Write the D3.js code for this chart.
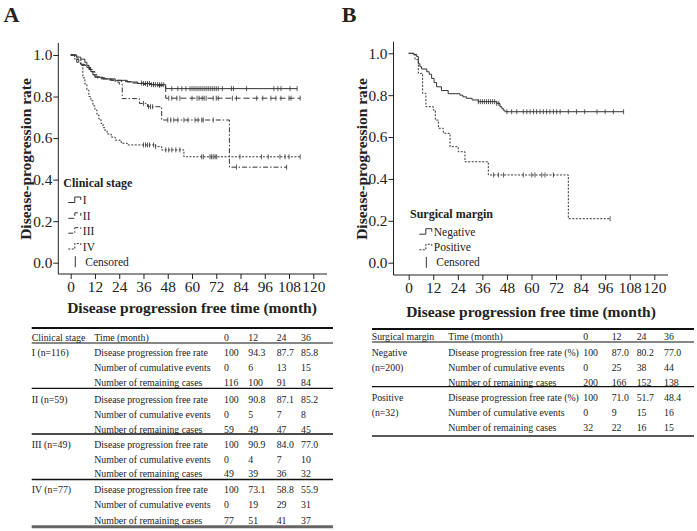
<!DOCTYPE html>
<html>
<head>
<meta charset="utf-8">
<script src="https://cdn.jsdelivr.net/npm/d3@7"></script>
<style>
  body { margin: 0; background: #fff; }
  svg text { font-family: "Liberation Serif", "Times New Roman", serif; fill: #222; }
</style>
</head>
<body>
<div id="container"></div>
<script>
/* DATA */
const rateTicks = [0, 0.2, 0.4, 0.6, 0.8, 1.0];
const monthTicks = [0, 12, 24, 36, 48, 60, 72, 84, 96, 108, 120];
const tableMonths = ["0", "12", "24", "36"];

// Kaplan-Meier steps: [month, rate]
const stageI = [[0, 1], [3, 0.99], [5, 0.98], [7, 0.965], [8, 0.95], [9, 0.935], [10, 0.92], [11, 0.905], [12, 0.893],
  [16, 0.885], [22, 0.878], [28, 0.87], [33, 0.863], [40, 0.857], [47, 0.838], [112, 0.838]];
const stageII = [[0, 1], [2, 0.98], [3, 0.965], [5, 0.955], [8, 0.94], [10, 0.92], [12, 0.895], [15, 0.885], [20, 0.878],
  [25, 0.872], [30, 0.865], [36, 0.858], [42, 0.853], [47, 0.792], [113.5, 0.792]];
const stageIII = [[0, 1], [2, 0.98], [4, 0.96], [6, 0.95], [9, 0.93], [11, 0.905], [13, 0.89], [18, 0.88], [22, 0.87],
  [24, 0.86], [25.5, 0.79], [34, 0.767], [38, 0.751], [45, 0.687], [78.5, 0.46], [107, 0.46]];
const stageIV = [[0, 1], [3, 0.98], [5, 0.95], [6, 0.89], [7, 0.86], [8, 0.83], [9, 0.8], [10, 0.78], [11, 0.755],
  [12, 0.735], [13, 0.71], [14, 0.69], [15, 0.67], [16, 0.65], [17, 0.635], [18, 0.62], [20, 0.605], [22, 0.59],
  [25, 0.575], [28, 0.567], [42, 0.559], [45, 0.543], [56, 0.51], [113.5, 0.51]];

const censI = [36, 37, 38, 39, 40, 41, 42, 43, 44, 45, 46, 50, 53, 55, 57, 59, 60, 61, 62, 63, 64, 65, 66, 67, 68, 69,
  70, 71, 72, 73, 75, 79.5, 80.5, 87, 100.5, 102.5, 104, 108.5, 112];
const censII = [35, 38, 41, 44, 48.5, 50, 52.5, 54, 60, 62.5, 63.5, 65, 66, 67, 70.5, 72, 73, 80, 82, 92, 95, 99,
  101.5, 104, 108, 109, 113.5];
const censIII = [36, 38.5, 39.5, 40.5, 48, 49.5, 51, 53, 56, 58, 61.5, 63, 64.8, 65.6, 70.5, 82, 106.8];
const censIV = [36, 37, 38, 39, 41, 42, 47, 48.5, 50, 52, 54, 64.8, 65.6, 68.9, 69.7, 70.5, 71.4, 72.2, 83.7, 94.4,
  97.7, 103.5, 106, 108, 113.5];

// Kaplan-Meier steps
const marginNeg = [[0, 1], [2.2, 0.995], [3.9, 0.984], [4.7, 0.95], [5.5, 0.936], [6.3, 0.925], [8.8, 0.912], [10, 0.9],
  [11.2, 0.88], [12.4, 0.86], [13.6, 0.84], [16, 0.822], [19.3, 0.807], [25, 0.8], [26.5, 0.792], [28.3, 0.785],
  [31, 0.777], [34, 0.769], [43, 0.761], [44.6, 0.745], [45.5, 0.737], [46.2, 0.728], [47, 0.721], [105, 0.721]];
const marginPos = [[0, 1], [3.1, 0.97], [4.7, 0.904], [6.8, 0.809], [8.4, 0.745], [12, 0.729], [13, 0.681],
  [14.5, 0.642], [16.9, 0.618], [20.2, 0.554], [24.2, 0.53], [27.5, 0.482], [38.9, 0.419], [78, 0.21], [98.4, 0.21]];

const censNeg = [34, 35, 36, 37, 38, 39, 40, 41, 42, 43, 44, 48, 50.3, 52.8, 56, 57.7, 59.3, 61, 62.5, 64.2, 65.8,
  67.4, 69, 70.7, 72.3, 74, 78, 82, 86, 92, 96, 100, 105];
const censPos = [41.4, 43.8, 46.3, 56, 60.1, 61.7, 65, 66.6, 70.7, 98.4];

// Tables
const rowTitles = ["Disease progression free rate", "Number of cumulative events", "Number of remaining cases"];
const rowTitlesB = ["Disease progression free rate (%)", "Number of cumulative events", "Number of remaining cases"];
const stageLabels = ["I (n=116)", "II (n=59)", "III (n=49)", "IV (n=77)"];
const stageTable = [
  [["100", "94.3", "87.7", "85.8"], ["0", "6", "13", "15"], ["116", "100", "91", "84"]],
  [["100", "90.8", "87.1", "85.2"], ["0", "5", "7", "8"], ["59", "49", "47", "45"]],
  [["100", "90.9", "84.0", "77.0"], ["0", "4", "7", "10"], ["49", "39", "36", "32"]],
  [["100", "73.1", "58.8", "55.9"], ["0", "19", "29", "31"], ["77", "51", "41", "37"]]
];
const marginLabels = [["Negative", "(n=200)"], ["Positive", "(n=32)"]];
const marginTable = [
  [["100", "87.0", "80.2", "77.0"], ["0", "25", "38", "44"], ["200", "166", "152", "138"]],
  [["100", "71.0", "51.7", "48.4"], ["0", "9", "15", "16"], ["32", "22", "16", "15"]]
];

/* CONSTANTS */
const width = 697, height = 531;
const ink = "#222";

const svg = d3.select("#container")
  .append("svg")
  .attr("width", width)
  .attr("height", height);

function survAt(steps, t) {
  let s = steps[0][1];
  steps.forEach(d => { if (d[0] <= t) s = d[1]; });
  return s;
}

function drawPanel(p) {
  const x = d3.scaleLinear().domain([0, 120]).range(p.xRange);
  const y = d3.scaleLinear().domain([0, 1]).range(p.yRange);
  const g = svg.append("g");

  g.append("text")
    .attr("x", p.letterX).attr("y", 21.7)
    .attr("font-size", 22).attr("font-weight", "bold")
    .text(p.letter);

  // axis lines
  g.append("line")
    .attr("x1", p.axisX).attr("x2", p.axisX)
    .attr("y1", p.axisTop).attr("y2", p.axisY)
    .attr("stroke", ink);
  g.append("line")
    .attr("x1", p.axisX).attr("x2", p.axisRight)
    .attr("y1", p.axisY).attr("y2", p.axisY)
    .attr("stroke", ink);

  g.append("g")
    .attr("transform", `translate(${p.axisX},0)`)
    .call(d3.axisLeft(y).tickValues(rateTicks).tickFormat(d3.format(".1f")).tickSize(5).tickPadding(1))
    .call(a => a.select(".domain").remove())
    .attr("font-size", 15.3)
    .call(a => a.selectAll("line").attr("stroke", ink));

  g.append("g")
    .attr("transform", `translate(0,${p.axisY})`)
    .call(d3.axisBottom(x).tickValues(monthTicks).tickSize(5).tickPadding(2))
    .call(a => a.select(".domain").remove())
    .attr("font-size", 15.3)
    .call(a => a.selectAll("line").attr("stroke", ink));

  g.append("text")
    .attr("x", (p.xRange[0] + p.xRange[1]) / 2 + p.titleShift).attr("y", p.titleY)
    .attr("text-anchor", "middle")
    .attr("font-size", 15.5).attr("font-weight", "bold")
    .text("Disease progression free time (month)");

  g.append("text")
    .attr("transform", `translate(${p.yTitleX},159) rotate(-90)`)
    .attr("text-anchor", "middle")
    .attr("dy", "0.35em")
    .attr("font-size", 15.5).attr("font-weight", "bold")
    .text("Disease-progression rate");

  const line = d3.line()
    .x(d => x(d[0]))
    .y(d => y(d[1]))
    .curve(d3.curveStepAfter);

  p.series.forEach(s => {
    g.append("path")
      .datum(s.steps)
      .attr("d", line)
      .attr("fill", "none")
      .attr("stroke", "#333")
      .attr("stroke-width", 1)
      .attr("stroke-dasharray", s.dash);

    g.selectAll(null)
      .data(s.cens)
      .join("line")
      .attr("x1", d => x(d)).attr("x2", d => x(d))
      .attr("y1", d => y(survAt(s.steps, d)) - 2.5)
      .attr("y2", d => y(survAt(s.steps, d)) + 2.5)
      .attr("stroke", "#333")
      .attr("stroke-width", 0.8);
  });

  // legend
  const lg = g.append("g");
  lg.append("text")
    .attr("x", p.legend.x).attr("y", p.legend.titleY)
    .attr("font-size", 12).attr("font-weight", "bold")
    .text(p.legend.title);

  p.series.forEach((s, i) => {
    const cy = p.legend.rows[i];
    const sx = p.legend.symX;
    lg.append("path")
      .attr("d", `M${sx},${cy + 2.5}H${sx + 6.5}V${cy - 3}H${sx + 12.5}V${cy}`)
      .attr("fill", "none")
      .attr("stroke", "#333")
      .attr("stroke-dasharray", s.dash);
    lg.append("text")
      .attr("x", sx + 14.5).attr("y", cy)
      .attr("dy", "0.35em")
      .attr("font-size", 11.5)
      .text(s.name);
  });
  const cy = p.legend.rows[p.series.length];
  lg.append("line")
    .attr("x1", p.legend.symX + 7).attr("x2", p.legend.symX + 7)
    .attr("y1", cy - 5.5).attr("y2", cy + 5.5)
    .attr("stroke", "#333");
  lg.append("text")
    .attr("x", p.legend.symX + 17).attr("y", cy)
    .attr("dy", "0.35em")
    .attr("font-size", 11.5)
    .text("Censored");
}

drawPanel({
  letter: "A", letterX: 3.5,
  xRange: [70.7, 313.3], yRange: [262.7, 55],
  axisX: 58.3, axisTop: 43, axisY: 274, axisRight: 327,
  titleY: 313.3, titleShift: 0, yTitleX: 26,
  series: [
    { name: "I", steps: stageI, cens: censI, dash: null },
    { name: "II", steps: stageII, cens: censII, dash: "6,3" },
    { name: "III", steps: stageIII, cens: censIII, dash: "5,2,1.5,2" },
    { name: "IV", steps: stageIV, cens: censIV, dash: "2,1.5" }
  ],
  legend: { x: 63.3, titleY: 186.8, title: "Clinical stage", symX: 68.3, rows: [200, 215.8, 230.7, 246.5, 261.7] }
});

drawPanel({
  letter: "B", letterX: 341.7,
  xRange: [408.7, 654.3], yRange: [262.7, 53.3],
  axisX: 393.5, axisTop: 41.7, axisY: 275, axisRight: 668,
  titleY: 317, titleShift: -0.5, yTitleX: 361.5,
  series: [
    { name: "Negative", steps: marginNeg, cens: censNeg, dash: null },
    { name: "Positive", steps: marginPos, cens: censPos, dash: "2,1.5" }
  ],
  legend: { x: 410, titleY: 217.5, title: "Surgical margin", symX: 419.3, rows: [231.7, 247.3, 262.3] }
});

/* TABLES */
function drawTable(t) {
  const g = svg.append("g").attr("font-size", 9.8);
  const hl = (yy, w, c) => g.append("line")
    .attr("x1", t.x0).attr("x2", t.x1).attr("y1", yy).attr("y2", yy)
    .attr("stroke", c || "#111").attr("stroke-width", w);

  hl(t.topY, 2.2);
  hl(t.headY, 1);

  const hdr = [t.headLabel, "Time (month)"].concat(tableMonths);
  const cols = [t.colLabel, t.colDesc].concat(t.colVals);
  hdr.forEach((h, i) => {
    g.append("text").attr("x", cols[i]).attr("y", t.headY - 1.6).text(h).attr("fill", "#333");
  });

  t.groups.forEach((grp, gi) => {
    const base = t.rowY[gi];
    grp.forEach((row, ri) => {
      const yy = base + ri * t.rowStep[gi];
      const label = t.labels[gi];
      const lab = Array.isArray(label) ? label[ri] : (ri === 0 ? label : null);
      if (lab) g.append("text").attr("x", t.colLabel).attr("y", yy).attr("dy", "0.35em").text(lab).attr("fill", "#333");
      g.append("text").attr("x", t.colDesc).attr("y", yy).attr("dy", "0.35em").text(t.titles[ri]).attr("fill", "#333");
      row.forEach((v, vi) => {
        g.append("text").attr("x", t.colVals[vi]).attr("y", yy).attr("dy", "0.35em").text(v).attr("fill", "#333");
      });
    });
    if (gi < t.groups.length - 1) hl(t.sepY[gi], 1.3);
  });
  hl(t.bottomY, t.bottomW, t.bottomColor);
}

drawTable({
  x0: 31.7, x1: 333, topY: 328, headY: 343,
  headLabel: "Clinical stage",
  colLabel: 31.7, colDesc: 94.3, colVals: [224, 248.3, 276.7, 301],
  labels: stageLabels, titles: rowTitles, groups: stageTable,
  rowY: [352.7, 399.3, 445, 489.3], rowStep: [15, 15, 14.5, 15.7],
  sepY: [388.3, 434, 479.5],
  bottomY: 526.7, bottomW: 3, bottomColor: "#666"
});

drawTable({
  x0: 372, x1: 694, topY: 329, headY: 342,
  headLabel: "Surgical margin",
  colLabel: 371.7, colDesc: 448.3, colVals: [583.3, 611.7, 636.7, 664],
  labels: marginLabels, titles: rowTitlesB, groups: marginTable,
  rowY: [352.3, 397.3], rowStep: [15, 15],
  sepY: [386.7],
  bottomY: 436, bottomW: 1.5, bottomColor: "#222"
});
</script>
</body>
</html>
